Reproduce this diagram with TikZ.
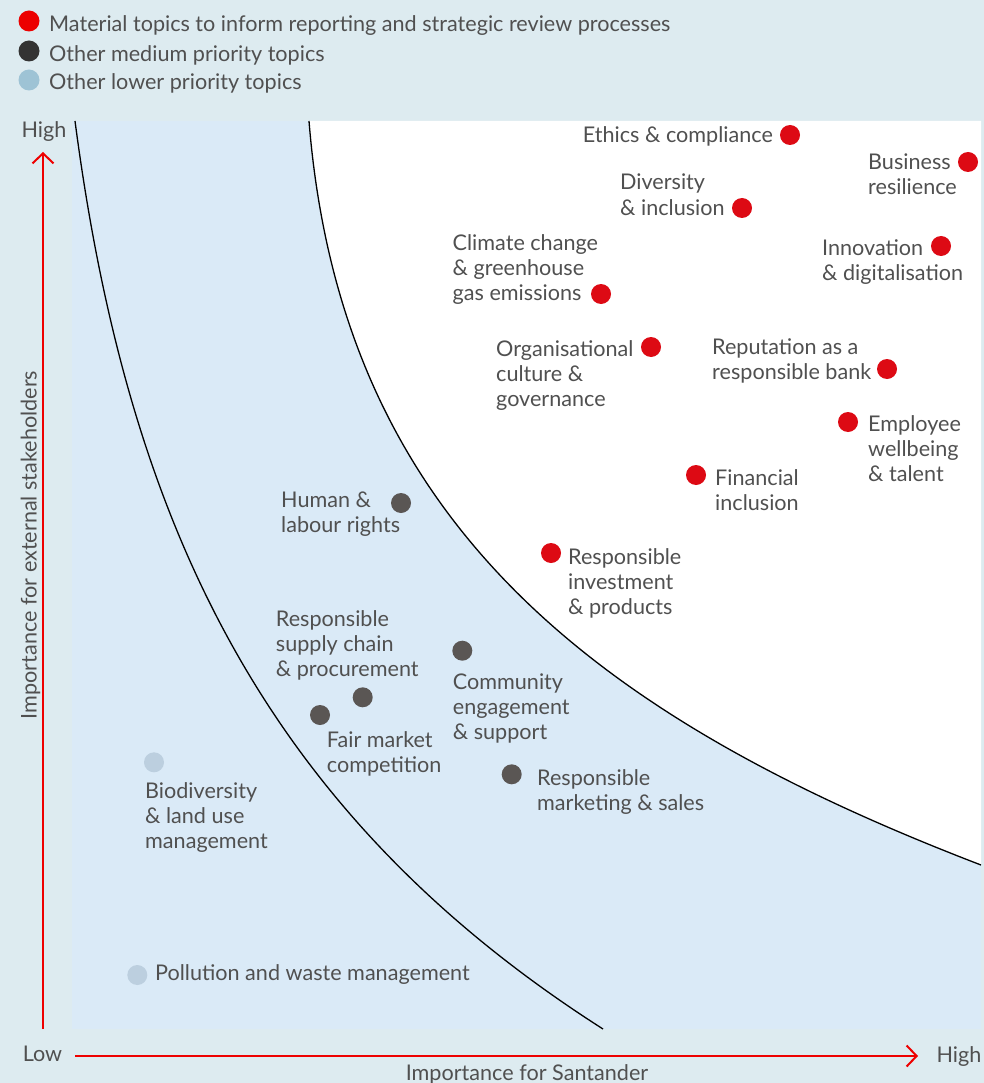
\documentclass[tikz,border=0pt]{standalone}
\usepackage{fontspec}
\setmainfont{Lato}
\usetikzlibrary{arrows.meta}
\definecolor{bgcol}{HTML}{DDEBF0}
\definecolor{plotcol}{HTML}{DAEAF7}
\definecolor{sred}{HTML}{DD0A14}
\definecolor{lred}{HTML}{EC0000}
\definecolor{sdark}{HTML}{5A5654}
\definecolor{ldark}{HTML}{333333}
\definecolor{slight}{HTML}{BCCFDF}
\definecolor{llight}{HTML}{9EC3D5}
\definecolor{txt}{HTML}{505050}
\definecolor{axisred}{HTML}{EE0000}
\begin{document}
\begin{tikzpicture}[x=1pt,y=-1pt,
  dotbase/.style={circle,inner sep=0pt,minimum size=20pt},
  reddot/.style={dotbase,fill=sred},
  darkdot/.style={dotbase,fill=sdark},
  lightdot/.style={dotbase,fill=slight},
  lbl/.style={inner sep=0pt,text=txt,align=left,anchor=base west,font=\fontsize{21.6}{25}\selectfont},
  axlbl/.style={inner sep=0pt,text=txt,anchor=base,font=\fontsize{21.6}{25}\selectfont},
  axis/.style={draw=axisred,line width=2pt,-{Straight Barb[length=10pt,width=21pt]}},
  curve/.style={draw=black,line width=1.3pt}]
\useasboundingbox (0,0) rectangle (984,1083);
\fill[bgcol] (0,0) rectangle (984,1083);
\fill[plotcol] (72,121) rectangle (981,1029);
\fill[white] (309,121) .. controls (341,519) and (590,715) .. (981,865) -- (981,121) -- cycle;
\draw[curve] (309,121) .. controls (341,519) and (590,715) .. (981,865);
\draw[curve] (75,121) .. controls (127,517) and (260,810) .. (603,1029);
% legend
\node[dotbase,minimum size=21pt,fill=lred] (lg1) at (29,21) {};
\node[dotbase,minimum size=21pt,fill=ldark] (lg2) at (29,51) {};
\node[dotbase,minimum size=21pt,fill=llight] (lg3) at (29,80) {};
\node[lbl] (lt1) at (49,31.7) {Material topics to inform reporting and strategic review processes};
\node[lbl] (lt2) at (49,61.5) {Other medium priority topics};
\node[lbl] (lt3) at (49,90) {Other lower priority topics};
% axes
\coordinate (yb) at (43,1029);
\coordinate (yt) at (43,152);
\coordinate (xl) at (75,1056);
\coordinate (xr) at (918,1056);
\draw[axis] (yb) -- (yt);
\draw[axis] (xl) -- (xr);
\node[axlbl] (yhigh) at (44,138) {High};
\node[axlbl] (low) at (42.5,1061) {Low};
\node[axlbl] (xhigh) at (959,1062) {High};
\node[axlbl] (xtitle) at (527,1080.5) {Importance for Santander};
\node[axlbl,rotate=90] (ytitle) at (36.7,545) {Importance for external stakeholders};
% red topics (multi-line nodes are placed by the baseline of their last line)
\node[reddot] (d1) at (790,135) {};
\node[lbl,anchor=base east] (t1) at (773,143) {Ethics \& compliance};
\node[reddot] (d2) at (968,162) {};
\node[lbl] (t2) at (868,195) {Business\\resilience};
\node[reddot] (d3) at (742,208) {};
\node[lbl] (t3) at (620,215) {Diversity\\\& inclusion};
\node[reddot] (d4) at (941,246) {};
\node[lbl] (t4) at (822,280) {Innovation\\\& digitalisation};
\node[reddot] (d5) at (601,294) {};
\node[lbl] (t5) at (452.5,300) {Climate change\\\& greenhouse\\gas emissions};
\node[reddot] (d6) at (651,347) {};
\node[lbl] (t6) at (496,406.5) {Organisational\\culture \&\\governance};
\node[reddot] (d7) at (887,369) {};
\node[lbl] (t7) at (712,379) {Reputation as a\\responsible bank};
\node[reddot] (d8) at (848,422) {};
\node[lbl] (t8) at (868,481) {Employee\\wellbeing\\\& talent};
\node[reddot] (d9) at (696,475) {};
\node[lbl] (t9) at (715,510) {Financial\\inclusion};
\node[reddot] (d10) at (551,553) {};
\node[lbl] (t10) at (568,614.5) {Responsible\\investment\\\& products};
% medium topics
\node[darkdot] (m1) at (401,503) {};
\node[lbl] (s1) at (281,532.5) {Human \&\\labour rights};
\node[darkdot] (m2) at (362.7,697.3) {};
\node[lbl] (s2) at (275.7,676) {Responsible\\supply chain\\\& procurement};
\node[darkdot] (m3) at (320,715) {};
\node[lbl] (s3) at (326.7,772.7) {Fair market\\competition};
\node[darkdot] (m4) at (462.3,650.7) {};
\node[lbl] (s4) at (452.7,739.3) {Community\\engagement\\\& support};
\node[darkdot] (m5) at (511.7,774.3) {};
\node[lbl] (s5) at (537,810) {Responsible\\marketing \& sales};
% low topics
\node[lightdot] (l1) at (154,762.3) {};
\node[lbl] (u1) at (145,848.3) {Biodiversity\\\& land use\\management};
\node[lightdot] (l2) at (137.3,975) {};
\node[lbl] (u2) at (155,980) {Pollution and waste management};
\end{tikzpicture}
\end{document}
